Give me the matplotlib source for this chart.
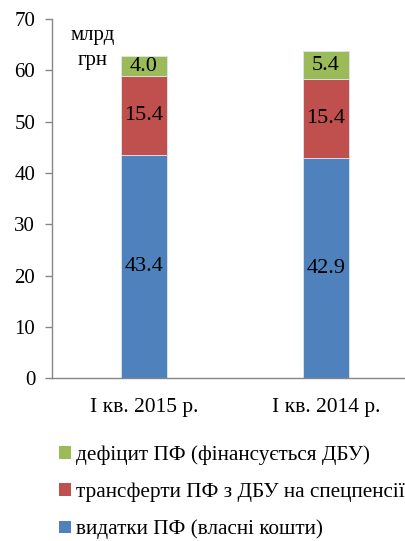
import numpy as np
import matplotlib.pyplot as plt
from matplotlib.patches import Patch

plt.rcParams['font.family'] = ['Liberation Serif', 'DejaVu Serif']

categories = ['І кв. 2015 р.', 'І кв. 2014 р.']
own_spending = [43.4, 42.9]
transfers = [15.4, 15.4]
deficit = [4.0, 5.4]
series_names = ['видатки ПФ (власні кошти)',
                'трансферти ПФ з ДБУ на спецпенсії',
                'дефіцит ПФ (фінансується ДБУ)']
colors = ['#4F81BD', '#C0504D', '#9BBB59']

fig = plt.figure(figsize=(4.06, 5.41), dpi=100)
ax = fig.add_axes([0.128, 0.301, 0.869, 0.664])

x = np.arange(len(categories))
w = 0.253
bottom = np.zeros(len(categories))
for vals, col in zip([own_spending, transfers, deficit], colors):
    vals = np.array(vals)
    ax.bar(x, vals, w, bottom=bottom, color=col, edgecolor='#DCE6F0', linewidth=0.6, zorder=2)
    for xi, b, v in zip(x, bottom, vals):
        ax.text(xi, b + v / 2, f'{v:.1f}', ha='center', va='center', fontsize=16, color='black')
    bottom += vals

ax.set_ylim(0, 70)
ax.set_yticks(range(0, 71, 10))
ax.set_xlim(-0.505, 1.434)
ax.set_xticks(x)
ax.set_xticklabels(categories)
ax.tick_params(axis='y', labelsize=15, length=5, width=1, color='#868686', pad=7)
ax.tick_params(axis='x', labelsize=15.5, length=0, pad=14)
for s in ['top', 'right']:
    ax.spines[s].set_visible(False)
for s in ['left', 'bottom']:
    ax.spines[s].set_color('#868686')
    ax.spines[s].set_linewidth(1)

ax.text(0.115, 0.98, 'млрд\nгрн', transform=ax.transAxes, ha='center', va='top',
        fontsize=15, linespacing=1.45)

handles = [Patch(facecolor=c) for c in colors][::-1]
fig.legend(handles, series_names[::-1], loc='upper left', bbox_to_anchor=(0.125, 0.192),
           frameon=False, fontsize=15.3, handlelength=0.55, handleheight=0.55,
           handletextpad=0.25, labelspacing=0.82, borderaxespad=0)

fig.savefig('out.png', dpi=100)
